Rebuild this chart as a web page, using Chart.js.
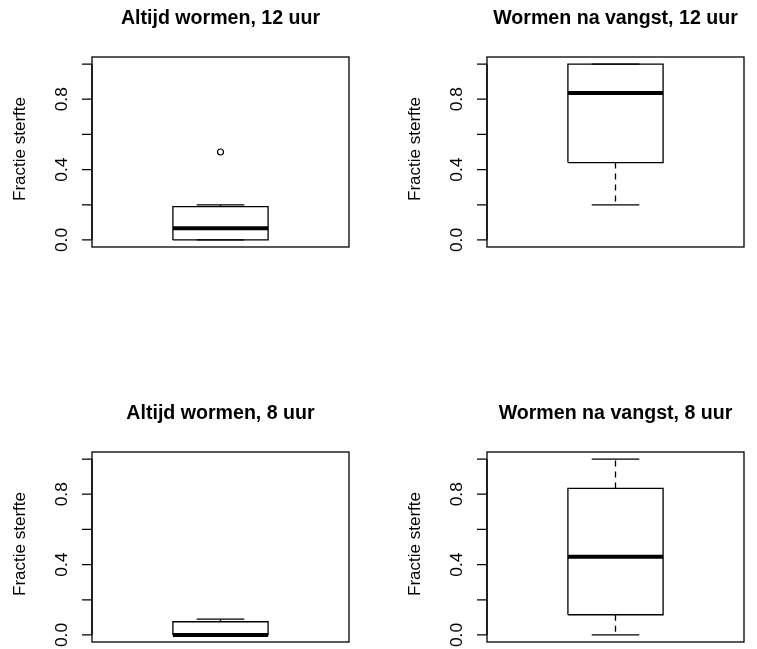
<!DOCTYPE html>
<html>
<head>
<meta charset="utf-8">
<style>
  html, body { margin: 0; padding: 0; background: #fff; }
  #wrap { position: relative; width: 757px; height: 649px; overflow: hidden; }
  #wrap canvas { position: absolute; }
</style>
<script src="https://cdn.jsdelivr.net/npm/chart.js@4.4.1/dist/chart.umd.min.js"></script>
</head>
<body>
<div id="wrap">
  <canvas id="panel0" width="362" height="254" style="left:0;top:0"></canvas>
  <canvas id="panel1" width="362" height="254" style="left:395px;top:0"></canvas>
  <canvas id="panel2" width="362" height="254" style="left:0;top:395px"></canvas>
  <canvas id="panel3" width="362" height="254" style="left:395px;top:395px"></canvas>
</div>
<script>
// panel titles
const titles = [
  'Altijd wormen, 12 uur',
  'Wormen na vangst, 12 uur',
  'Altijd wormen, 8 uur',
  'Wormen na vangst, 8 uur',
];

// boxplot statistics per panel
const lowWhisker = [0, 0.2, 0, 0];
const lowHinge = [0, 0.44, 0, 0.115];
const medians = [0.067, 0.835, 0, 0.445];
const highHinge = [0.19, 1.0, 0.075, 0.833];
const highWhisker = [0.2, 1.0, 0.09, 1.0];
const outliers = [[0.5], [], [], []];

// y axis
const yTicks = [0, 0.2, 0.4, 0.6, 0.8, 1.0];
const yTickLabels = ['0.0', '', '0.4', '', '0.8', ''];
const yTitle = 'Fractie sterfte';

const FONT = '"Liberation Sans", Arial, Helvetica, sans-serif';
const BOX_HALF = 0.2;
const CAP_HALF = 0.1;

function seg(x0, y0, x1, y1) {
  return [{ x: x0, y: y0 }, { x: x1, y: y1 }];
}

function lineDs(data, width, dash) {
  return {
    data,
    showLine: true,
    borderColor: '#000',
    borderWidth: width,
    borderDash: dash || [],
    borderCapStyle: 'butt',
    pointRadius: 0,
    fill: false,
    tension: 0,
  };
}

/**
 * R-style frame, left axis, rotated labels and title
 */
const rFrame = {
  id: 'rFrame',
  afterDraw(chart) {
    const { ctx, chartArea: a, scales } = chart;
    const ys = scales.y;
    const idx = chart.options.plugins.rFrame.index;
    ctx.save();
    ctx.strokeStyle = '#000';
    ctx.fillStyle = '#000';
    ctx.lineWidth = 1.3;
    ctx.strokeRect(a.left, a.top, a.right - a.left, a.bottom - a.top);

    // axis line and ticks
    ctx.beginPath();
    ctx.moveTo(a.left, ys.getPixelForValue(yTicks[0]));
    ctx.lineTo(a.left, ys.getPixelForValue(yTicks[yTicks.length - 1]));
    yTicks.forEach((v) => {
      const py = ys.getPixelForValue(v);
      ctx.moveTo(a.left, py);
      ctx.lineTo(a.left - 10, py);
    });
    ctx.stroke();

    // tick labels, rotated
    ctx.font = '17.4px ' + FONT;
    ctx.textAlign = 'center';
    ctx.textBaseline = 'alphabetic';
    yTicks.forEach((v, i) => {
      if (!yTickLabels[i]) return;
      ctx.save();
      ctx.translate(a.left - 25, ys.getPixelForValue(v));
      ctx.rotate(-Math.PI / 2);
      ctx.fillText(yTickLabels[i], 0, 0);
      ctx.restore();
    });

    // axis title
    ctx.font = '17px ' + FONT;
    ctx.save();
    ctx.translate(25, (a.top + a.bottom) / 2 - 3);
    ctx.rotate(-Math.PI / 2);
    ctx.fillText(yTitle, 0, 0);
    ctx.restore();

    // main title
    ctx.font = 'bold 19.6px ' + FONT;
    ctx.fillText(titles[idx], (a.left + a.right) / 2, 23.5);
    ctx.restore();
  },
};

function createBoxPanel(canvasId, i) {
  const canvas = document.getElementById(canvasId);
  const ctx = canvas.getContext('2d');

  const datasets = [
    lineDs([
      { x: 1 - BOX_HALF, y: lowHinge[i] },
      { x: 1 + BOX_HALF, y: lowHinge[i] },
      { x: 1 + BOX_HALF, y: highHinge[i] },
      { x: 1 - BOX_HALF, y: highHinge[i] },
      { x: 1 - BOX_HALF, y: lowHinge[i] },
    ], 1.3),
    lineDs(seg(1, highHinge[i], 1, highWhisker[i]), 1.3, [6, 5]),
    lineDs(seg(1, lowHinge[i], 1, lowWhisker[i]), 1.3, [6, 5]),
    lineDs(seg(1 - CAP_HALF, highWhisker[i], 1 + CAP_HALF, highWhisker[i]), 1.3),
    lineDs(seg(1 - CAP_HALF, lowWhisker[i], 1 + CAP_HALF, lowWhisker[i]), 1.3),
    lineDs(seg(1 - BOX_HALF, medians[i], 1 + BOX_HALF, medians[i]), 4),
    {
      data: outliers[i].map((v) => ({ x: 1, y: v })),
      showLine: false,
      pointStyle: 'circle',
      pointRadius: 3,
      pointBorderWidth: 1.2,
      pointBorderColor: '#000',
      pointBackgroundColor: 'rgba(0,0,0,0)',
    },
  ];

  return new Chart(ctx, {
    type: 'scatter',
    data: { datasets },
    options: {
      responsive: false,
      animation: false,
      events: [],
      layout: { padding: { left: 92, right: 13, top: 57, bottom: 7 } },
      plugins: {
        legend: { display: false },
        tooltip: { enabled: false },
        rFrame: { index: i },
      },
      scales: {
        x: { type: 'linear', min: 0.46, max: 1.54, display: false },
        y: { type: 'linear', min: -0.04, max: 1.04, display: false },
      },
    },
    plugins: [rFrame],
  });
}

titles.forEach((t, i) => createBoxPanel('panel' + i, i));
</script>
</body>
</html>
